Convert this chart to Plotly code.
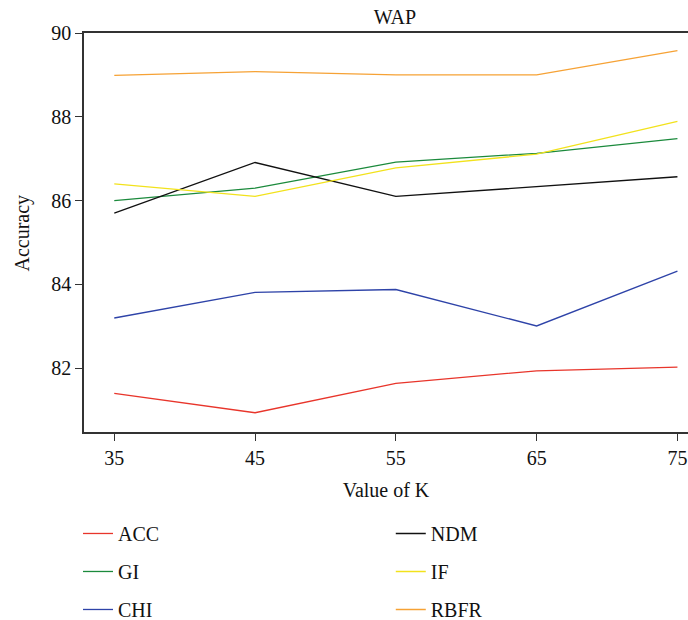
import plotly.graph_objects as go

# K values on the x axis
k_values = [35, 45, 55, 65, 75]

# Accuracy of each feature-selection method
acc = [81.40, 80.94, 81.64, 81.94, 82.03]
gi = [86.00, 86.30, 86.92, 87.13, 87.48]
chi = [83.20, 83.81, 83.88, 83.01, 84.32]
ndm = [85.70, 86.91, 86.10, 86.34, 86.57]
if_vals = [86.40, 86.10, 86.78, 87.11, 87.89]
rbfr = [88.99, 89.08, 89.00, 89.00, 89.58]

x_ticks = [35, 45, 55, 65, 75]
y_ticks = [82, 84, 86, 88, 90]

FONT = "Liberation Serif"
FSIZE = 20

series = [
    # name, values, colour, legend column, group
    ("ACC", acc, "#e8352b", "legend", "g1"),
    ("GI", gi, "#1b8a3c", "legend", "g2"),
    ("CHI", chi, "#2e43a8", "legend", "g3"),
    ("NDM", ndm, "#111111", "legend2", "g4"),
    ("IF", if_vals, "#f2e21c", "legend2", "g5"),
    ("RBFR", rbfr, "#f6a235", "legend2", "g6"),
]

fig = go.Figure()
for name, vals, color, leg, grp in series:
    fig.add_trace(go.Scatter(
        x=k_values, y=vals, mode="lines", name=name,
        line=dict(color=color, width=1.3),
        legend=leg, legendgroup=grp,
    ))

axis_common = dict(
    showline=True, linecolor="#333333", linewidth=1.5,
    ticks="outside", tickcolor="#333333", ticklen=7, tickwidth=1.2,
    showgrid=False, zeroline=False, automargin=False,
    tickfont=dict(family=FONT, size=FSIZE, color="#111111"),
)

legend_common = dict(
    orientation="v", xanchor="left", yanchor="top",
    xref="container", yref="container",
    font=dict(family=FONT, size=FSIZE, color="#111111"),
    bgcolor="rgba(0,0,0,0)", tracegroupgap=9, itemwidth=30,
)

fig.update_layout(
    width=688, height=620,
    margin=dict(l=84, r=0, t=33, b=188, autoexpand=False),
    plot_bgcolor="white", paper_bgcolor="white",
    title=dict(text="WAP", x=0.574, xanchor="center", y=0.972, yanchor="middle",
               font=dict(family=FONT, size=FSIZE, color="#111111")),
    xaxis=dict(
        range=[32.85, 75.75], tickvals=x_ticks, mirror=True,
        title=dict(text="Value of K", font=dict(family=FONT, size=FSIZE, color="#111111")),
        **axis_common,
    ),
    yaxis=dict(
        range=[80.48, 90.0], tickvals=y_ticks,
        **axis_common,
    ),
    legend=dict(x=0.1134, y=0.171, **legend_common),
    legend2=dict(x=0.568, y=0.171, **legend_common),
    annotations=[dict(
        text="Accuracy", textangle=-90, showarrow=False,
        xref="paper", yref="paper", x=-0.101, y=0.5,
        xanchor="center", yanchor="middle",
        font=dict(family=FONT, size=FSIZE, color="#111111"),
    )],
)

fig.write_html("out.html")
